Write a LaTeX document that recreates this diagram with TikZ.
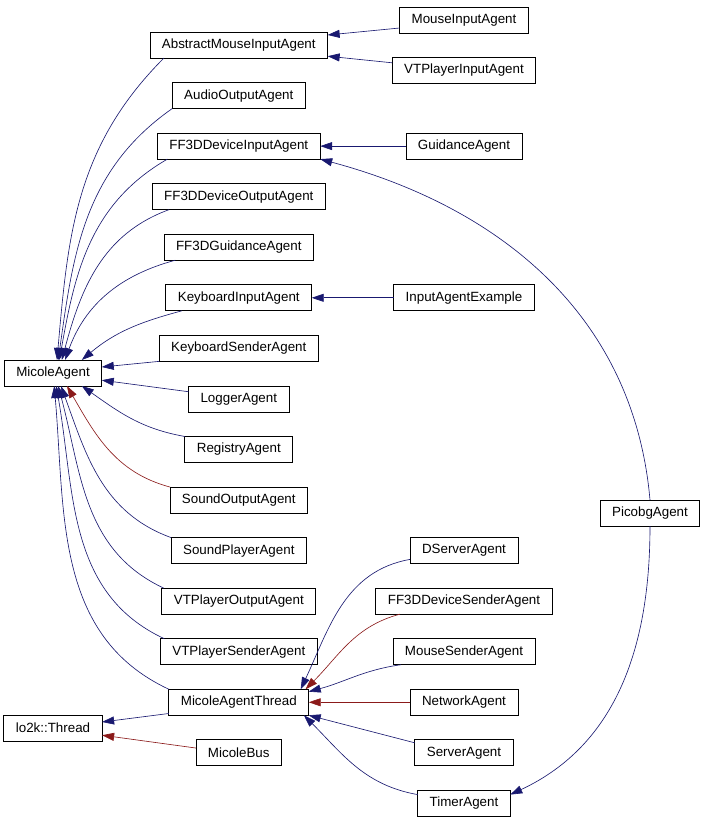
\documentclass[tikz,border=0pt]{standalone}
\usepackage{fontspec}
\setmainfont{Liberation Sans}
\usepackage{tikz}
\usetikzlibrary{arrows.meta, positioning}
\definecolor{midblue}{HTML}{191970}
\definecolor{firered}{HTML}{8B1A1A}
\tikzset{
  cls/.style={rectangle, draw=black, line width=0.6pt, fill=white,
              minimum height=0.65cm, inner xsep=0.3cm, inner ysep=0pt,
              outer sep=0pt, font=\fontsize{9.5}{11}\selectfont},
  pub/.style={-{Triangle[length=3mm, width=2mm]}, draw=midblue, line width=0.45pt},
  prot/.style={pub, draw=firered},
}

\begin{document}
\begin{tikzpicture}[node distance=0.614cm]

  \useasboundingbox (0,0) rectangle (17.6,-20.575);

  % Base classes (left)
  \node[cls] (mag)  at (1.325,-9.325) {MicoleAgent};
  \node[cls] (lo2k) at (1.325,-18.2)  {lo2k::Thread};

  % Middle column
  \node[cls] (amia) at (5.97,-1.125) {AbstractMouseInputAgent};
  \node[cls, below=of amia]     (audio)    {AudioOutputAgent};
  \node[cls, below=of audio]    (ff3din)   {FF3DDeviceInputAgent};
  \node[cls, below=of ff3din]   (ff3dout)  {FF3DDeviceOutputAgent};
  \node[cls, below=of ff3dout]  (ff3dguid) {FF3DGuidanceAgent};
  \node[cls, below=of ff3dguid] (kbin)     {KeyboardInputAgent};
  \node[cls, below=of kbin]     (kbsend)   {KeyboardSenderAgent};
  \node[cls, below=of kbsend]   (logger)   {LoggerAgent};
  \node[cls, below=of logger]   (registry) {RegistryAgent};
  \node[cls, below=of registry] (soundout) {SoundOutputAgent};
  \node[cls, below=of soundout] (soundpl)  {SoundPlayerAgent};
  \node[cls, below=of soundpl]  (vtpout)   {VTPlayerOutputAgent};
  \node[cls, below=of vtpout]   (vtpsend)  {VTPlayerSenderAgent};
  \node[cls, below=of vtpsend]  (mat)      {MicoleAgentThread};
  \node[cls, below=of mat]      (mbus)     {MicoleBus};

  % Right column
  \node[cls, xshift=5.63cm, yshift=0.625cm]  (mousein) at (amia) {MouseInputAgent};
  \node[cls, xshift=5.63cm, yshift=-0.625cm] (vtpin)   at (amia) {VTPlayerInputAgent};
  \node[cls, xshift=5.63cm] (guid)      at (ff3din)  {GuidanceAgent};
  \node[cls, xshift=5.63cm] (iae)       at (kbin)    {InputAgentExample};
  \node[cls, xshift=5.63cm] (dserv)     at (soundpl) {DServerAgent};
  \node[cls, xshift=5.63cm] (ff3dsend)  at (vtpout)  {FF3DDeviceSenderAgent};
  \node[cls, xshift=5.63cm] (mousesend) at (vtpsend) {MouseSenderAgent};
  \node[cls, xshift=5.63cm] (netw)      at (mat)     {NetworkAgent};
  \node[cls, xshift=5.63cm] (server)    at (mbus)    {ServerAgent};
  \node[cls, below=of server] (timer) {TimerAgent};

  \node[cls] (picobg) at (16.25,-12.825) {PicobgAgent};

  % Children of MicoleAgent
  \draw[pub] ([xshift=0.35cm]amia.south west) to[out=225, in=85] ([xshift=0.1cm]mag.north);
  \draw[pub] (audio.south west) to[out=215, in=82] ([xshift=0.13cm]mag.north);
  \draw[pub] ([xshift=0.25cm]ff3din.south west) to[out=210, in=80] ([xshift=0.16cm]mag.north);
  \draw[pub] ([xshift=0.42cm]ff3dout.south west) to[out=200, in=75] ([xshift=0.22cm]mag.north);
  \draw[pub] ([xshift=0.28cm]ff3dguid.south west) to[out=195, in=70] ([xshift=0.3cm]mag.north);
  \draw[pub] ([xshift=0.4cm]kbin.south west) to[out=195, in=40] ([xshift=0.72cm]mag.north);
  \draw[pub] (kbsend.south west) -- ([yshift=0.15cm]mag.east);
  \draw[pub] ([yshift=0.18cm]logger.west) -- ([yshift=-0.18cm]mag.east);
  \draw[pub] (registry.north west) to[out=170, in=-35] ([xshift=0.72cm]mag.south);
  \draw[prot] (soundout.north west) to[out=165, in=-60] ([xshift=0.35cm]mag.south);
  \draw[pub] (soundpl.north west) to[out=160, in=-70] ([xshift=0.2cm]mag.south);
  \draw[pub] ([xshift=0.05cm]vtpout.north west) to[out=155, in=-75] ([xshift=0.13cm]mag.south);
  \draw[pub] ([xshift=0.1cm]vtpsend.north west) to[out=155, in=-80] ([xshift=0.08cm]mag.south);
  \draw[pub] (mat.north west) to[out=155, in=-85] ([xshift=0.03cm]mag.south);

  % Second level
  \draw[pub] ([yshift=-0.2cm]mousein.west) -- ([yshift=0.25cm]amia.east);
  \draw[pub] ([yshift=0.18cm]vtpin.west) -- ([yshift=-0.28cm]amia.east);
  \draw[pub] (guid) -- (ff3din);
  \draw[pub] (picobg.north) to[out=95, in=-15] (ff3din.south east);
  \draw[pub] (iae) -- (kbin);

  % lo2k::Thread
  \draw[pub] ([yshift=-0.28cm]mat.west) -- ([yshift=0.15cm]lo2k.east);
  \draw[prot] ([yshift=0.12cm]mbus.west) -- ([yshift=-0.18cm]lo2k.east);

  % Children of MicoleAgentThread
  \draw[pub] ([yshift=-0.22cm]dserv.west) to[out=190, in=65] ([xshift=-0.2cm]mat.north east);
  \draw[prot] ([xshift=0.6cm]ff3dsend.south west) to[out=195, in=45] ([xshift=-0.08cm]mat.north east);
  \draw[pub] ([xshift=0.2cm]mousesend.south west) to[out=188, in=15] ([yshift=-0.06cm]mat.north east);
  \draw[prot] (netw) -- (mat);
  \draw[pub] ([yshift=0.25cm]server.west) -- (mat.south east);
  \draw[pub] ([yshift=0.22cm]timer.west) to[out=170, in=-45] ([xshift=-0.12cm]mat.south east);
  \draw[pub] (picobg.south) to[out=-90, in=25] ([yshift=0.22cm]timer.east);

\end{tikzpicture}
\end{document}
